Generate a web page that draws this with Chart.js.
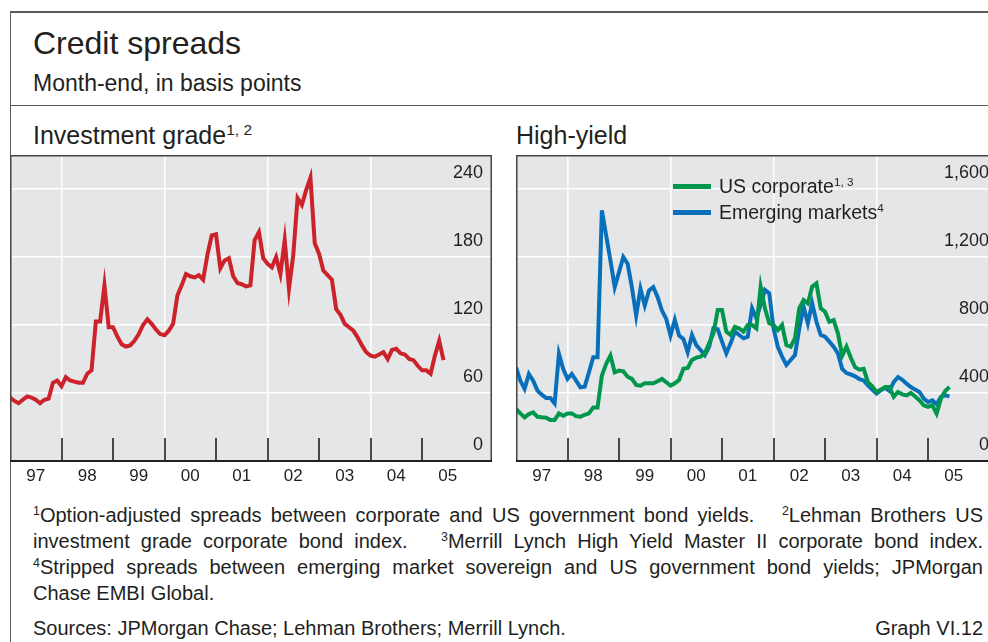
<!DOCTYPE html>
<html>
<head>
<meta charset="utf-8">
<script src="https://cdn.jsdelivr.net/npm/chart.js@4.4.1/dist/chart.umd.min.js"></script>
<style>
  html, body { margin: 0; padding: 0; background: #fff; overflow: hidden; width: 988px; height: 642px; }
  body { position: relative; font-family: "Liberation Sans", Arial, sans-serif; color: #231f20; }
  .abs { position: absolute; white-space: nowrap; }
  .rule { position: absolute; background: #5a5a5a; }
  sup { font-size: 0.6em; vertical-align: baseline; position: relative; top: -0.6em; }
  .title { left: 33px; top: 24px; font-size: 32px; line-height: 38px; }
  .sub { left: 33px; top: 69px; font-size: 23px; line-height: 28px; }
  .panel { top: 120px; font-size: 25px; line-height: 30px; }
  .panel sup { font-size: 0.62em; top: -0.55em; }
  canvas { position: absolute; top: 155px; }
  .swatch { position: absolute; width: 38px; height: 5px; }
  .legt { font-size: 19.5px; line-height: 24px; }
  .note { position: absolute; left: 33px; width: 950px; font-size: 20px; line-height: 26px; white-space: nowrap;
          text-align: justify; text-align-last: justify; }
  .note.last { text-align-last: left; }
  .note sup { font-size: 0.62em; top: -0.6em; }
</style>
</head>
<body>
<div class="rule" style="left:10px;top:11px;width:978px;height:1.5px"></div>
<div class="rule" style="left:9.5px;top:11px;width:1.5px;height:631px"></div>
<div class="rule" style="left:10px;top:104.5px;width:978px;height:1.5px"></div>

<div class="abs title">Credit spreads</div>
<div class="abs sub">Month-end, in basis points</div>
<div class="abs panel" style="left:33px">Investment grade<sup>1, 2</sup></div>
<div class="abs panel" style="left:516px">High-yield</div>

<canvas id="igChart" width="484" height="336" style="left:10px"></canvas>
<canvas id="hyChart" width="484" height="336" style="left:516px"></canvas>

<div class="swatch" style="left:673px;top:184px;background:#00964b"></div>
<div class="abs legt" style="left:719px;top:174px">US corporate<sup>1, 3</sup></div>
<div class="swatch" style="left:673px;top:210px;background:#0a6fba"></div>
<div class="abs legt" style="left:719px;top:200px">Emerging markets<sup>4</sup></div>

<div class="note" style="top:502px"><sup>1</sup>Option-adjusted spreads between corporate and US government bond yields.&nbsp;&nbsp; <sup>2</sup>Lehman Brothers US</div>
<div class="note" style="top:528px">investment grade corporate bond index.&nbsp;&nbsp; <sup>3</sup>Merrill Lynch High Yield Master II corporate bond index.</div>
<div class="note" style="top:554px"><sup>4</sup>Stripped spreads between emerging market sovereign and US government bond yields; JPMorgan</div>
<div class="note last" style="top:580px">Chase EMBI Global.</div>
<div class="abs" style="left:33px;top:615px;font-size:20px;line-height:26px">Sources: JPMorgan Chase; Lehman Brothers; Merrill Lynch.</div>
<div class="abs" style="right:5px;top:615px;font-size:20px;line-height:26px">Graph VI.12</div>

<script>
// month-end values, index 0 = end Dec 1996, last = end May 2005
const yearLabels = ['97', '98', '99', '00', '01', '02', '03', '04', '05'];
const igTicks = [0, 60, 120, 180, 240];
const hyTicks = [0, 400, 800, 1200, 1600];

const investmentGrade = [
  56, 53, 51, 54, 57, 56, 54, 51, 54, 55,
  69, 71, 66, 74, 71, 70, 69, 69, 77, 80,
  123, 123, 155, 118, 118, 110, 103, 101, 102, 106,
  112, 120, 125, 121, 116, 112, 111, 115, 121, 146,
  155, 165, 163, 162, 164, 160, 182, 199, 200, 170,
  177, 179, 163, 157, 156, 154, 155, 195, 202, 179,
  174, 171, 180, 165, 195, 152, 182, 232, 226, 239,
  250, 192, 183, 168, 164, 160, 134, 129, 121, 118,
  115, 109, 102, 96, 93, 92, 94, 96, 90, 98,
  99, 95, 94, 90, 89, 84, 80, 80, 77, 93,
  106, 89
];

const usCorporate = [
  306, 280, 257, 276, 286, 260, 257, 255, 241, 241,
  280, 266, 280, 280, 264, 260, 272, 280, 315, 315,
  502, 571, 620, 522, 532, 528, 496, 483, 447, 443,
  457, 457, 457, 469, 483, 463, 443, 457, 477, 542,
  547, 594, 608, 614, 633, 692, 750, 888, 888, 761,
  741, 790, 780, 761, 800, 800, 780, 1025, 898, 810,
  800, 770, 800, 682, 672, 722, 898, 947, 927, 1025,
  1045, 898, 878, 819, 829, 751, 620, 673, 607, 552,
  537, 542, 464, 439, 406, 420, 435, 435, 377, 406,
  392, 386, 400, 380, 357, 328, 318, 328, 279, 367,
  412, 435
];

const emergingMarkets = [
  551, 473, 424, 512, 473, 414, 390, 371, 371, 339,
  630, 541, 483, 512, 473, 433, 437, 522, 610, 610,
  1475, 1328, 1180, 1023, 1111, 1200, 1161, 1023, 856, 1013,
  915, 1003, 1023, 964, 885, 836, 738, 830, 738, 718,
  640, 741, 682, 653, 623, 672, 780, 775, 702, 633,
  692, 761, 741, 722, 731, 898, 839, 918, 1006, 986,
  780, 672, 614, 565, 594, 623, 780, 908, 810, 927,
  819, 741, 731, 702, 672, 633, 542, 517, 509, 498,
  482, 474, 445, 420, 396, 416, 431, 412, 464, 494,
  478, 455, 435, 420, 406, 367, 347, 357, 334, 377,
  386, 380
];

const toPoints = vals => vals.map((v, i) => ({ x: i, y: v }));

// grey plot panel, box border and year tick marks drawn inside the plot
const panelFrame = {
  id: 'panelFrame',
  beforeDraw(chart) {
    const { ctx, chartArea: a } = chart;
    ctx.save();
    ctx.fillStyle = '#e5e6e8';
    ctx.fillRect(a.left, a.top, a.right - a.left, a.bottom - a.top);
    ctx.restore();
  },
  beforeDatasetsDraw(chart) {
    const { ctx, chartArea: a, scales: { x } } = chart;
    ctx.save();
    ctx.strokeStyle = '#231f20';
    ctx.lineWidth = 1.6;
    for (let m = 12; m <= 96; m += 12) {
      const px = Math.round(x.getPixelForValue(m));
      ctx.beginPath();
      ctx.moveTo(px, a.bottom);
      ctx.lineTo(px, a.bottom - 23);
      ctx.stroke();
    }
    ctx.restore();
  },
  afterDraw(chart) {
    const { ctx, chartArea: a } = chart;
    ctx.save();
    ctx.strokeStyle = '#444';
    ctx.lineWidth = 1.5;
    ctx.beginPath();
    ctx.moveTo(a.left + 0.75, a.bottom);
    ctx.lineTo(a.left + 0.75, a.top + 0.75);
    ctx.lineTo(a.right - 0.75, a.top + 0.75);
    ctx.lineTo(a.right - 0.75, a.bottom);
    ctx.stroke();
    ctx.strokeStyle = '#231f20';
    ctx.lineWidth = 2;
    ctx.beginPath();
    ctx.moveTo(a.left, a.bottom);
    ctx.lineTo(a.right, a.bottom);
    ctx.stroke();
    ctx.restore();
  }
};

function makeChart(id, datasets, yMax, yTicks) {
  return new Chart(document.getElementById(id), {
    type: 'line',
    data: { datasets },
    plugins: [panelFrame],
    options: {
      responsive: false,
      animation: false,
      devicePixelRatio: 1,
      layout: { padding: { top: 0, right: 2, bottom: 0, left: 0 } },
      plugins: { legend: { display: false }, tooltip: { enabled: false } },
      elements: {
        point: { radius: 0 },
        line: { tension: 0, borderWidth: 4, borderJoinStyle: 'miter', fill: false }
      },
      scales: {
        x: {
          type: 'linear', min: 0, max: 112.3,
          afterBuildTicks: s => {
            const t = [];
            for (let v = 6; v <= 102; v += 6) t.push({ value: v });
            s.ticks = t;
          },
          afterFit: s => { s.height = 30; s.paddingLeft = 0; s.paddingRight = 0; },
          ticks: {
            autoSkip: false, maxRotation: 0, padding: 5,
            color: '#231f20', font: { family: 'Liberation Sans', size: 17 },
            callback: v => (v % 12 === 6 ? yearLabels[(v - 6) / 12] : '')
          },
          grid: {
            drawTicks: false, lineWidth: 1.5,
            color: c => (c.tick && c.tick.value % 24 === 12 ? '#ffffff' : 'rgba(0,0,0,0)')
          },
          border: { display: false }
        },
        y: {
          type: 'linear', position: 'right', min: 0, max: yMax,
          afterBuildTicks: s => { s.ticks = yTicks.map(v => ({ value: v })); },
          afterFit: s => { s.width = 0; s.paddingTop = 0; s.paddingBottom = 0; },
          ticks: {
            mirror: true, padding: -9, labelOffset: -16,
            color: '#231f20', font: { family: 'Liberation Sans', size: 18 },
            callback: v => v.toLocaleString('en-US')
          },
          grid: {
            drawTicks: false, lineWidth: 1.5,
            color: c => (c.tick && c.tick.value === 0 ? 'rgba(0,0,0,0)' : '#ffffff')
          },
          border: { display: false }
        }
      }
    }
  });
}

makeChart('igChart', [
  { label: 'Investment grade', data: toPoints(investmentGrade), borderColor: '#cc2229' }
], 270, igTicks);

makeChart('hyChart', [
  { label: 'US corporate', data: toPoints(usCorporate), borderColor: '#00964b' },
  { label: 'Emerging markets', data: toPoints(emergingMarkets), borderColor: '#0a6fba' }
], 1800, hyTicks);
</script>
</body>
</html>
